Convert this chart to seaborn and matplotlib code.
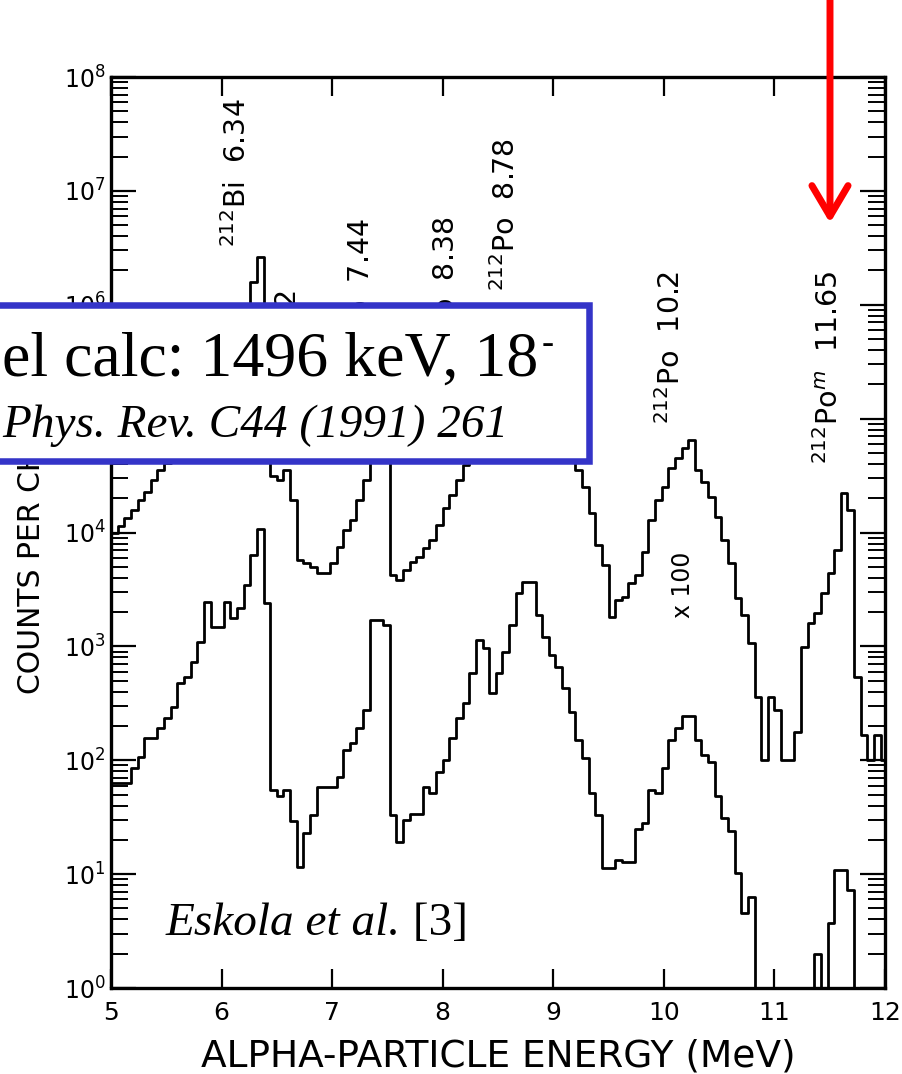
import numpy as np
import matplotlib
matplotlib.use("Agg")
import matplotlib.pyplot as plt
from matplotlib.patches import Rectangle, FancyArrowPatch
from matplotlib.ticker import LogLocator, NullFormatter, FixedLocator
import seaborn as sns

# ---------------- data ----------------
E_START = 5.0          # MeV, left edge of first channel
BIN_WIDTH = 0.06       # MeV per channel

counts_lower = [
    63, 63, 63, 85, 107, 157, 157, 192, 235, 293,
    476, 537, 728, 1090, 2450, 1480, 1480, 2450, 1770, 2170,
    3450, 6300, 10700, 2400, 55, 49, 55, 29, 11.5, 23,
    33, 58, 58, 58, 71, 123, 142, 192, 276, 1700,
    1700, 1540, 33, 19, 30, 34, 34, 58, 52, 79,
    100, 157, 235, 318, 583, 1140, 967, 389, 583, 891,
    1540, 2940, 3670, 3670, 1880, 1210, 839, 658, 430, 265,
    150, 105, 52, 33, 11.3, 11.3, 13.3, 12.8, 12.8, 25,
    28, 55, 52, 85, 150, 192, 244, 244, 150, 111,
    96, 49, 31, 24, 10.2, 4.6, 6.3, 0, 0, 0,
    0, 0, 0, 0, 0, 0, 2, 0, 3.7, 10.9,
    10.9, 7.3, 0, 0, 0, 0, 0,
]

counts_x100 = [
    9880, 11400, 13400, 15700, 19300, 22600, 28800, 35300, 40700, 52900,
    64800, 87700, 119000, 161000, 218000, 197000, 241000, 267000, 295000, 399000,
    897000, 1580000, 2620000, 79300, 31300, 28800, 35300, 19300, 5730, 5390,
    4970, 4400, 4400, 5390, 7450, 10500, 12800, 19300, 28800, 64800,
    145000, 119000, 4230, 3820, 4680, 5500, 6080, 7300, 8580, 11600,
    16400, 21300, 28800, 39100, 52900, 97000, 87700, 52900, 79300, 119000,
    178000, 267000, 326000, 326000, 197000, 145000, 107000, 87700, 64800, 47800,
    35300, 25000, 14800, 7750, 5170, 1810, 2550, 2710, 3590, 4230,
    6730, 12800, 19300, 25000, 36800, 45000, 55100, 64800, 35300, 27700,
    20500, 13700, 8580, 5390, 2650, 1880, 1070, 359, 100, 359,
    276, 100, 100, 177, 986, 1600, 1960, 2940, 4400, 7000,
    22200, 15700, 537, 166, 100, 166, 100,
]

x_ticks = [5, 6, 7, 8, 9, 10, 11, 12]
x_tick_labels = ["5", "6", "7", "8", "9", "10", "11", "12"]
y_decades = [1e0, 1e1, 1e2, 1e3, 1e4, 1e5, 1e6, 1e7, 1e8]

peak_texts = [r"$^{212}$Bi  6.34", r"$^{211}$Bi  6.62", r"$^{211}$Po  7.44",
              r"$^{211}$Po  8.38", r"$^{212}$Po  8.78", r"$^{212}$Po  10.2",
              r"$^{212}$Po$^{m}$  11.65"]
peak_text_energy = [6.144, 6.60, 7.265, 8.033, 8.576, 10.068, 11.496]
peak_text_top = [6.5e7, 1.34e6, 5.76e6, 5.88e6, 2.9e7, 2.0e6, 2.0e6]

# ---------------- style ----------------
sns.set_style("white")
plt.rcParams["font.family"] = ["DejaVu Sans"]
for key in ("text.color", "axes.labelcolor", "xtick.color", "ytick.color",
            "axes.edgecolor"):
    plt.rcParams[key] = "black"

fig = plt.figure(figsize=(9.02, 10.74), dpi=100)
ax = fig.add_axes([111/902, 1 - 988/1074, 774/902, 911/1074])


def step_xy(counts):
    c = np.asarray(counts, dtype=float)
    edges = E_START + BIN_WIDTH * np.arange(len(c) + 1)
    y = np.append(c, c[-1])
    y = np.where(y > 0, y, 1e-3)  # empty channels drop below the axis
    return edges, y


for series in (counts_lower, counts_x100):
    ex, ey = step_xy(series)
    sns.lineplot(x=ex, y=ey, drawstyle="steps-post", estimator=None, sort=False,
                 color="black", linewidth=2.0, ax=ax, legend=False)

ax.set_yscale("log")
ax.set_xlim(5, 12)
ax.set_ylim(1, 1e8)

ax.xaxis.set_major_locator(FixedLocator(x_ticks))
ax.set_xticklabels(x_tick_labels)
ax.yaxis.set_major_locator(FixedLocator(y_decades))
ax.yaxis.set_minor_locator(LogLocator(base=10, subs=np.arange(2, 10), numticks=30))
ax.yaxis.set_minor_formatter(NullFormatter())

ax.tick_params(axis="x", which="major", direction="in", length=14, width=1.6,
               top=True, bottom=True, labelsize=18, pad=9)
ax.tick_params(axis="x", which="minor", top=False, bottom=False)
ax.tick_params(axis="y", which="major", direction="in", length=18, width=1.6,
               left=True, right=True, labelsize=17, pad=4)
ax.tick_params(axis="y", which="minor", direction="in", length=12, width=1.4,
               left=True, right=True)
for sp in ax.spines.values():
    sp.set_linewidth(2.4)
    sp.set_color("black")

ax.set_xlabel("ALPHA-PARTICLE ENERGY (MeV)", fontsize=27)
ax.xaxis.set_label_coords(0.5, (988 - 1057) / 911)
ax.xaxis.label.set_va("center")
ax.set_ylabel("COUNTS PER CHANNEL", fontsize=21.5)
ax.yaxis.set_label_coords((31 - 111) / 774, 0.513)
ax.yaxis.label.set_va("center")

for txt, ex, ey in zip(peak_texts, peak_text_energy, peak_text_top):
    ax.text(ex, ey, txt, rotation=90, ha="center", va="top", fontsize=20.5,
            math_fontfamily="dejavusans")
ax.text(10.17, 6730, "x 100", rotation=90, ha="center", va="top", fontsize=17)

# ---------------- overlays ----------------
box = Rectangle((-0.05, 1 - 461/1074), 589/902 + 0.05, (461 - 304.5)/1074,
                transform=fig.transFigure, facecolor="white",
                edgecolor="#3434C8", linewidth=4.7, zorder=5)
fig.add_artist(box)

serif = "Liberation Serif"
t1 = fig.text(2/902, 1 - 376/1074, "el calc: 1496 keV, 18", family=serif,
              fontsize=46, va="baseline", ha="left", zorder=6)
t2 = fig.text(2/902, 1 - 437/1074, "Phys. Rev. C44 (1991) 261", family=serif,
              style="italic", fontsize=34, va="baseline", ha="left", zorder=6)
t_esk = fig.text(166/902, 1 - 935/1074, "Eskola et al.", family=serif,
                 style="italic", fontsize=34, va="baseline", ha="left", zorder=6)
fig.canvas.draw()
W, H = fig.bbox.width, fig.bbox.height
b1 = t1.get_window_extent()
fig.text((b1.x1 + 3) / W, 1 - 344/1074, "-", family=serif, fontsize=26,
         va="center", ha="left", zorder=6)
be = t_esk.get_window_extent()
fig.text(be.x1 / W, 1 - 935/1074, " [3]", family=serif,
         fontsize=34, va="baseline", ha="left", zorder=6)

arrow = FancyArrowPatch(posA=(830/902, 1.02), posB=(830/902, 1 - 223/1074),
                        transform=fig.transFigure,
                        arrowstyle="->,head_length=1.1,head_width=0.65",
                        mutation_scale=20, color="#FF0000", linewidth=5,
                        shrinkA=0, shrinkB=0, zorder=7)
fig.add_artist(arrow)

fig.savefig("out.png", dpi=100, facecolor="white")
